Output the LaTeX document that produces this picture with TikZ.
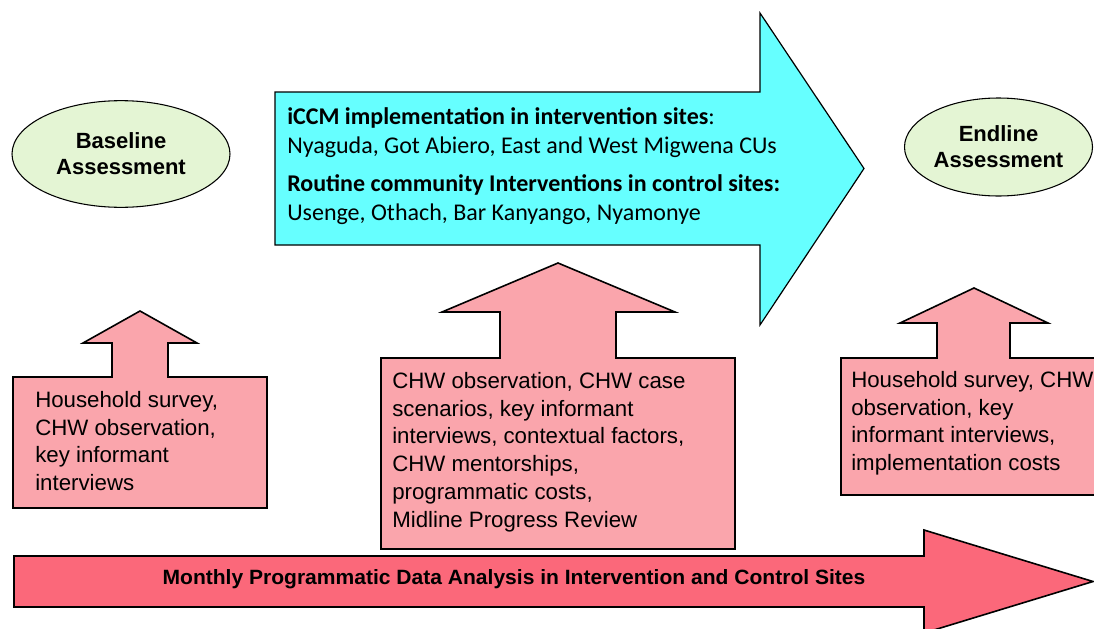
\documentclass[tikz,border=0pt]{standalone}
\usepackage{graphicx}
\usepackage{fontspec}
\setmainfont{Liberation Sans}
\newfontfamily\calfont{Carlito}
\usetikzlibrary{shapes.geometric}
\definecolor{cyanfill}{RGB}{102,255,255}
\definecolor{pinkfill}{RGB}{250,165,172}
\definecolor{redfill}{RGB}{251,104,122}
\definecolor{greenfill}{RGB}{228,245,212}
\tikzset{
  cyanarrow/.style={draw=black, line width=0.9pt, fill=cyanfill, line join=miter},
  callout/.style={draw=black, line width=1.2pt, fill=pinkfill, line join=miter},
  redarrow/.style={draw=black, line width=1.2pt, fill=redfill, line join=miter},
  assess/.style={ellipse, draw=black, line width=0.8pt, fill=greenfill, inner sep=0pt,
    align=center, font=\bfseries\fontsize{16.5}{19.5}\selectfont},
  cyantxt/.style={anchor=base west, inner sep=0pt, font=\calfont\fontsize{18}{21.75}\selectfont},
  pinktxt/.style={anchor=north west, inner sep=0pt, align=left, font=\fontsize{16.7}{20.8}\selectfont},
}
\begin{document}
\begin{tikzpicture}[x=0.75pt,y=-0.75pt]
\useasboundingbox (0,0) rectangle (1094,628);
\clip (0,0) rectangle (1094,628);
% big cyan arrow
\draw[cyanarrow] (275,92) -- (760,92) -- (760,13) -- (864,168.5) -- (760,325) -- (760,245) -- (275,245) -- cycle;
\node[cyantxt] (c1) at (287,124) {\textbf{iCCM implementation in intervention sites}:};
\node[cyantxt] (c2) at (287,153) {Nyaguda, Got Abiero, East and West Migwena CUs};
\node[cyantxt] (c3) at (287,191) {\textbf{Routine community Interventions in control sites:}};
\node[cyantxt] (c4) at (287,220) {Usenge, Othach, Bar Kanyango, Nyamonye};
% ellipses
\node[assess, minimum width=163.5pt, minimum height=80pt] (base) at (121,154) {Baseline\\Assessment};
\node[assess, minimum width=141pt, minimum height=73.5pt] (end) at (998.5,147) {Endline\\Assessment};
% callouts
\draw[callout] (13,377) -- (112,377) -- (112,343) -- (83,343) -- (140,311) -- (197,343) -- (168,343) -- (168,377) -- (267,377) -- (267,508) -- (13,508) -- cycle;
\draw[callout] (381,358) -- (500,358) -- (500,312) -- (442,312) -- (558,263) -- (675,312) -- (616,312) -- (616,358) -- (735,358) -- (735,549) -- (381,549) -- cycle;
\draw[callout] (841,358) -- (937,358) -- (937,323) -- (900,323) -- (974,288) -- (1048,323) -- (1010,323) -- (1010,358) -- (1100,358) -- (1100,495) -- (841,495) -- cycle;
\node[pinktxt] (t1) at (35,391) {Household survey,\\CHW observation,\\key informant\\interviews};
\node[pinktxt] (t2) at (392,372) {CHW observation, CHW case\\scenarios, key informant\\interviews, contextual factors,\\CHW mentorships,\\programmatic costs,\\Midline Progress Review};
\node[pinktxt] (t3) at (851,371) {Household survey, CHW\\observation, key\\informant interviews,\\implementation costs};
% bottom red arrow
\draw[redarrow] (14,556) -- (924,556) -- (924,530) -- (1093,581.5) -- (924,633) -- (924,607) -- (14,607) -- cycle;
\node[inner sep=0pt, anchor=base] (monthly) at (514,584) {\resizebox{527pt}{\height}{\bfseries\fontsize{15.5}{18}\selectfont Monthly Programmatic Data Analysis in Intervention and Control Sites}};
\end{tikzpicture}
\end{document}
